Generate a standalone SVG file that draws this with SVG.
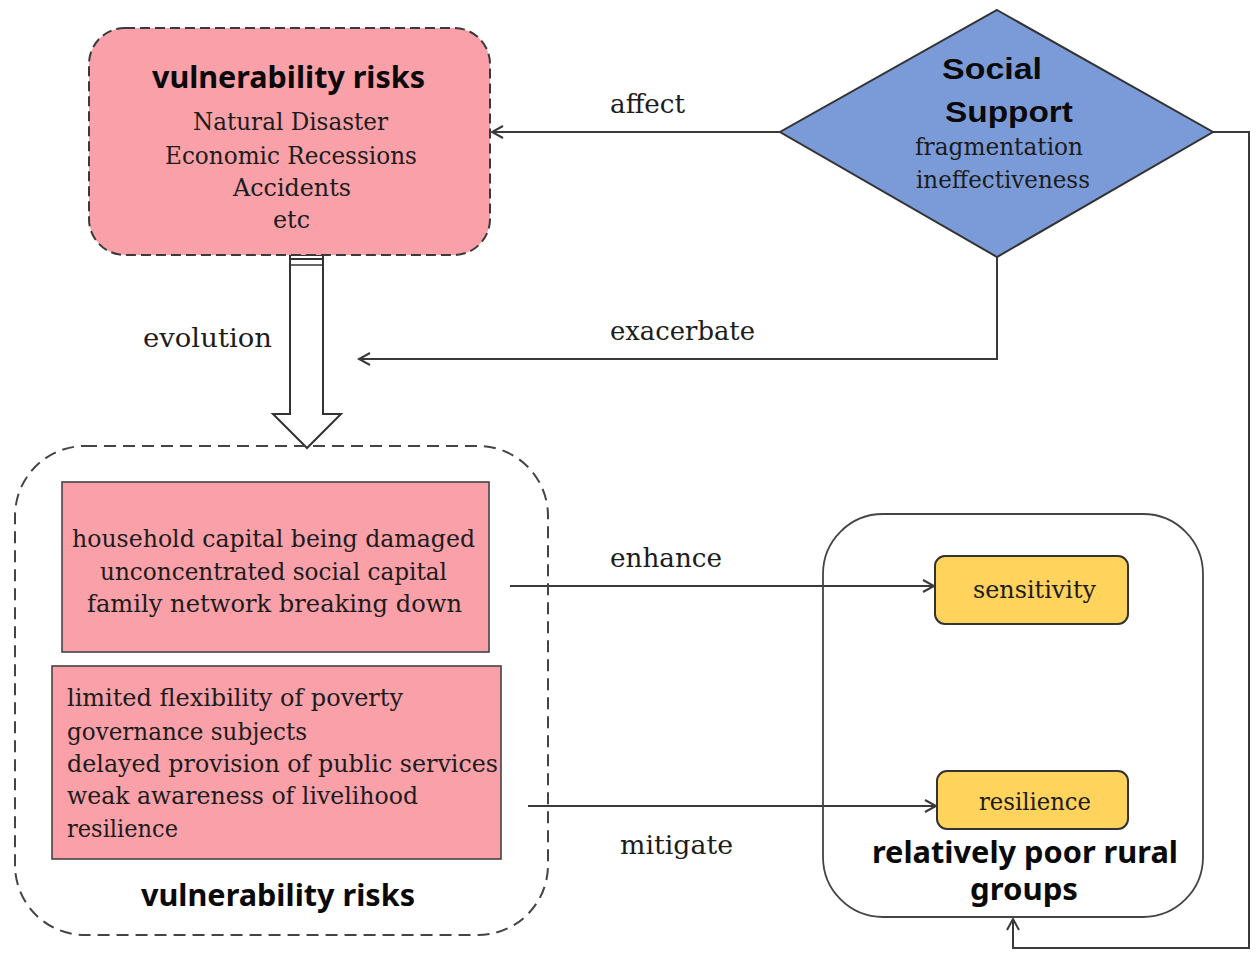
<svg xmlns="http://www.w3.org/2000/svg" width="1256" height="956" viewBox="0 0 1256 956">
  <style>
    .serif { font-family: "DejaVu Serif", "Liberation Serif", serif; font-size: 24.5px; fill: #1c1c1c; }
    .label { font-family: "DejaVu Serif", "Liberation Serif", serif; font-size: 25.5px; fill: #1c1c1c; }
    .title { font-family: "Noto Sans", "DejaVu Sans", sans-serif; font-weight: bold; font-size: 30px; fill: #0a0a0a; }
    .head { font-family: "Liberation Sans", Arial, sans-serif; font-weight: bold; font-size: 30px; fill: #0a0a0a; }
    .conn { fill: none; stroke: #3a3a3a; stroke-width: 2; }
    .pink { fill: #F9A0A9; stroke: #444; stroke-width: 1.6; }
    .yellow { fill: #FFD35C; stroke: #333; stroke-width: 2; }
  </style>
  <defs>
    <marker id="open" markerUnits="userSpaceOnUse" markerWidth="16" markerHeight="16" refX="12" refY="7" orient="auto">
      <path d="M1,1 L12,7 L1,13" fill="none" stroke="#3a3a3a" stroke-width="2"/>
    </marker>
  </defs>
  <rect width="1256" height="956" fill="#fff"/>

  <!-- connectors -->
  <g id="connectors">
    <path class="conn" d="M780,132 H492" marker-end="url(#open)"/>
    <path class="conn" d="M997,257 V359 H359" marker-end="url(#open)"/>
    <path class="conn" d="M1213,132 H1249 V948 H1013 V919" marker-end="url(#open)"/>
    <path class="conn" d="M510,586 H934" marker-end="url(#open)"/>
    <path class="conn" d="M528,806 H936" marker-end="url(#open)"/>
    <!-- hollow block arrow -->
    <polygon points="290,255 323,255 323,414 341,414 307,448 273,414 290,414" fill="#fff" stroke="#333" stroke-width="2"/>
    <line x1="290" y1="259" x2="323" y2="259" stroke="#333" stroke-width="2"/>
    <line x1="290" y1="265" x2="323" y2="265" stroke="#333" stroke-width="1.6"/>
    <text class="label" x="610" y="113" textLength="75" lengthAdjust="spacingAndGlyphs">affect</text>
    <text class="label" x="610" y="340" textLength="145" lengthAdjust="spacingAndGlyphs">exacerbate</text>
    <text class="label" x="143" y="347" textLength="129" lengthAdjust="spacingAndGlyphs">evolution</text>
    <text class="label" x="610" y="567" textLength="112" lengthAdjust="spacingAndGlyphs">enhance</text>
    <text class="label" x="620" y="854" textLength="113" lengthAdjust="spacingAndGlyphs">mitigate</text>
  </g>

  <!-- vulnerability risks (sources) -->
  <g id="risk-sources">
    <rect x="89" y="28" width="401" height="227" rx="36" fill="#F9A0A9" stroke="#3a3a3a" stroke-width="2" stroke-dasharray="10 5"/>
    <text class="title" x="152" y="88" textLength="273" lengthAdjust="spacingAndGlyphs">vulnerability risks</text>
    <text class="serif" x="193" y="130" textLength="195" lengthAdjust="spacingAndGlyphs">Natural Disaster</text>
    <text class="serif" x="165" y="164" textLength="252" lengthAdjust="spacingAndGlyphs">Economic Recessions</text>
    <text class="serif" x="233" y="196" textLength="118" lengthAdjust="spacingAndGlyphs">Accidents</text>
    <text class="serif" x="273" y="228" textLength="37" lengthAdjust="spacingAndGlyphs">etc</text>
  </g>

  <!-- social support -->
  <g id="social-support">
    <polygon points="997,10 1213,132 997,257 780,132" fill="#7B9BD8" stroke="#333" stroke-width="2"/>
    <text class="head" x="942" y="79" textLength="100" lengthAdjust="spacingAndGlyphs">Social</text>
    <text class="head" x="945" y="122" textLength="128" lengthAdjust="spacingAndGlyphs">Support</text>
    <text class="serif" x="915" y="155" textLength="168" lengthAdjust="spacingAndGlyphs">fragmentation</text>
    <text class="serif" x="916" y="188" textLength="174" lengthAdjust="spacingAndGlyphs">ineffectiveness</text>
  </g>

  <!-- vulnerability risks (outcomes) -->
  <g id="risk-outcomes">
    <rect x="15" y="446" width="533" height="489" rx="70" fill="none" stroke="#444" stroke-width="2" stroke-dasharray="12 7"/>
    <rect class="pink" x="62" y="482" width="427" height="170"/>
    <text class="serif" x="72" y="547" textLength="403" lengthAdjust="spacingAndGlyphs">household capital being damaged</text>
    <text class="serif" x="100" y="580" textLength="347" lengthAdjust="spacingAndGlyphs">unconcentrated social capital</text>
    <text class="serif" x="87" y="612" textLength="375" lengthAdjust="spacingAndGlyphs">family network breaking down</text>
    <rect class="pink" x="52" y="666" width="449" height="193"/>
    <text class="serif" x="67" y="706" textLength="336" lengthAdjust="spacingAndGlyphs">limited flexibility of poverty</text>
    <text class="serif" x="67" y="740" textLength="240" lengthAdjust="spacingAndGlyphs">governance subjects</text>
    <text class="serif" x="67" y="772" textLength="431" lengthAdjust="spacingAndGlyphs">delayed provision of public services</text>
    <text class="serif" x="67" y="804" textLength="351" lengthAdjust="spacingAndGlyphs">weak awareness of livelihood</text>
    <text class="serif" x="67" y="837" textLength="111" lengthAdjust="spacingAndGlyphs">resilience</text>
    <text class="title" x="141" y="906" textLength="274" lengthAdjust="spacingAndGlyphs">vulnerability risks</text>
  </g>

  <!-- relatively poor rural groups -->
  <g id="rural-groups">
    <rect x="823" y="514" width="380" height="403" rx="60" fill="none" stroke="#444" stroke-width="1.8"/>
    <rect class="yellow" x="935" y="556" width="193" height="68" rx="10"/>
    <text class="serif" x="973" y="598" textLength="123" lengthAdjust="spacingAndGlyphs">sensitivity</text>
    <rect class="yellow" x="937" y="771" width="191" height="58" rx="10"/>
    <text class="serif" x="979" y="810" textLength="112" lengthAdjust="spacingAndGlyphs">resilience</text>
    <text class="title" x="872" y="863" textLength="306" lengthAdjust="spacingAndGlyphs">relatively poor rural</text>
    <text class="title" x="970" y="900" textLength="108" lengthAdjust="spacingAndGlyphs">groups</text>
  </g>
</svg>
